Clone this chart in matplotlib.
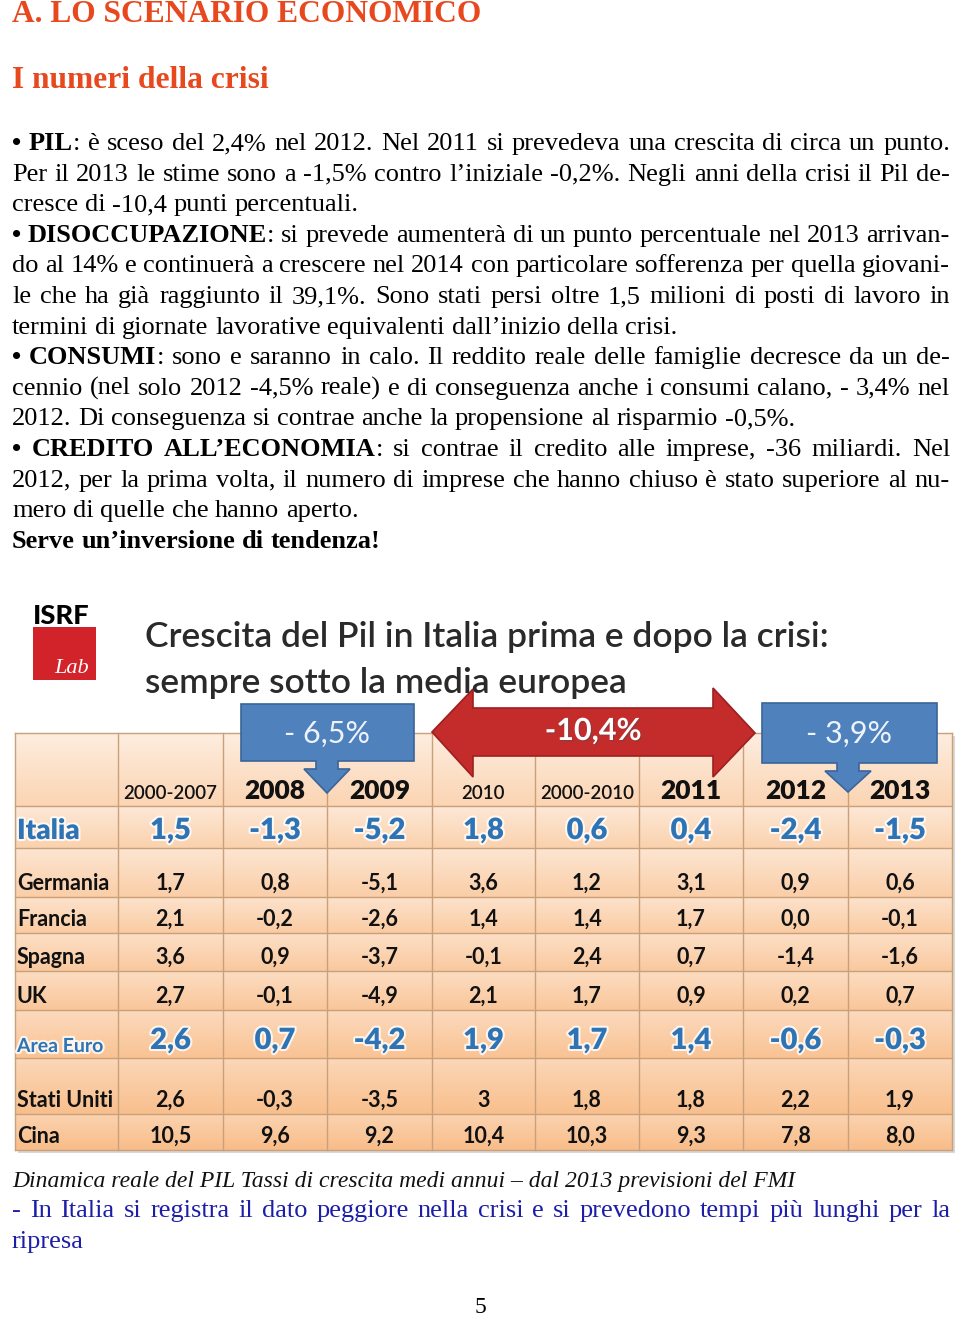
import numpy as np
import matplotlib
matplotlib.use('Agg')
import matplotlib.pyplot as plt
from matplotlib.patches import Polygon, Rectangle
import matplotlib.patheffects as pe

# ---- table data (GDP growth, %)
years = ['2000-2007', '2008', '2009', '2010', '2000-2010', '2011', '2012', '2013']
big_year = [False, True, True, False, False, True, True, True]
countries = ['Italia', 'Germania', 'Francia', 'Spagna', 'UK', 'Area Euro', 'Stati Uniti', 'Cina']
italia = [1.5, -1.3, -5.2, 1.8, 0.6, 0.4, -2.4, -1.5]
germania = [1.7, 0.8, -5.1, 3.6, 1.2, 3.1, 0.9, 0.6]
francia = [2.1, -0.2, -2.6, 1.4, 1.4, 1.7, 0.0, -0.1]
spagna = [3.6, 0.9, -3.7, -0.1, 2.4, 0.7, -1.4, -1.6]
uk = [2.7, -0.1, -4.9, 2.1, 1.7, 0.9, 0.2, 0.7]
area_euro = [2.6, 0.7, -4.2, 1.9, 1.7, 1.4, -0.6, -0.3]
stati_uniti = [2.6, -0.3, -3.5, 3, 1.8, 1.8, 2.2, 1.9]
cina = [10.5, 9.6, 9.2, 10.4, 10.3, 9.3, 7.8, 8.0]
highlight = ['Italia', 'Area Euro']
drops = ['- 6,5%', '-10,4%', '- 3,9%']

# ---- page text
heading = 'A. LO SCENARIO ECONOMICO'
subheading = 'I numeri della crisi'
paragraphs = [
    ['**•** **PIL**: è sceso del 2,4% nel 2012. Nel 2011 si prevedeva una crescita di circa un punto.',
     'Per il 2013 le stime sono a -1,5% contro l’iniziale -0,2%. Negli anni della crisi il Pil de-',
     'cresce di -10,4 punti percentuali.'],
    ['**•** **DISOCCUPAZIONE**: si prevede aumenterà di un punto percentuale nel 2013 arrivan-',
     'do al 14% e continuerà a crescere nel 2014 con particolare sofferenza per quella giovani-',
     'le che ha già raggiunto il 39,1%. Sono stati persi oltre 1,5 milioni di posti di lavoro in',
     'termini di giornate lavorative equivalenti dall’inizio della crisi.'],
    ['**•** **CONSUMI**: sono e saranno in calo. Il reddito reale delle famiglie decresce da un de-',
     'cennio (nel solo 2012 -4,5% reale) e di conseguenza anche i consumi calano, - 3,4% nel',
     '2012. Di conseguenza si contrae anche la propensione al risparmio -0,5%.'],
    ['**•** **CREDITO** **ALL’ECONOMIA**: si contrae il credito alle imprese, -36 miliardi. Nel',
     '2012, per la prima volta, il numero di imprese che hanno chiuso è stato superiore al nu-',
     'mero di quelle che hanno aperto.'],
    ['**Serve** **un’inversione** **di** **tendenza!**'],
]
caption = 'Dinamica reale del PIL Tassi di crescita medi annui – dal 2013 previsioni del FMI'
note = ['- In Italia si registra il dato peggiore nella crisi e si prevedono tempi più lunghi per la',
        'ripresa']
chart_title = ['Crescita del Pil in Italia prima e dopo la crisi:', 'sempre sotto la media europea']

SERIF = 'Liberation Serif'
SANS = 'Lato'
RED = '#e8481e'
NAVY = '#1d1ea8'
TBLUE = '#2e74b5'


def fmt(v):
    if isinstance(v, int):
        return str(v)
    return ('%.1f' % v).replace('.', ',')


def parse(line):
    """split a line with **bold** marks into words made of (text, bold) pieces"""
    words = [[]]
    for i, part in enumerate(line.split('**')):
        for j, chunk in enumerate(part.split(' ')):
            if j > 0:
                words.append([])
            if chunk:
                words[-1].append((chunk, i % 2 == 1))
    return [w for w in words if w]


def width_of(t, rend):
    return t.get_window_extent(rend).width


def fit_text(ax, rend, x, y, s, width, **kw):
    t = ax.text(x, y, s, **kw)
    t.set_fontsize(t.get_fontsize() * width / width_of(t, rend))
    return t


def justify(ax, rend, y, line, size, width, x0=12, last=False, **kw):
    words = parse(line)
    objs = [[ax.text(0, y, s, fontsize=size, va='baseline',
                     fontweight='bold' if b else 'normal', **kw) for s, b in w]
            for w in words]
    probe = ax.text(0, 0, 'a a', fontsize=size, **kw)
    probe2 = ax.text(0, 0, 'aa', fontsize=size, **kw)
    space = width_of(probe, rend) - width_of(probe2, rend)
    probe.remove()
    probe2.remove()
    total = sum(width_of(t, rend) for w in objs for t in w)
    need = total + (len(objs) - 1) * space * 0.55
    if not last and need > width:
        f = width / need
        for w in objs:
            for t in w:
                t.set_fontsize(size * f)
        space *= f
        total = sum(width_of(t, rend) for w in objs for t in w)
    if last or len(objs) == 1:
        gap = space
    else:
        gap = (width - total) / (len(objs) - 1)
    x = x0
    for w in objs:
        for t in w:
            t.set_x(x)
            x += width_of(t, rend)
        x += gap


fig = plt.figure(figsize=(9.6, 13.18), dpi=100)
ax = fig.add_axes([0, 0, 1, 1])
rend = fig.canvas.get_renderer()

# ---- headings and body text
fit_text(ax, rend, 12, 22, heading, 471, fontsize=22, family=SERIF,
         fontweight='bold', color=RED, va='baseline')
fit_text(ax, rend, 12, 88, subheading, 257, fontsize=22, family=SERIF,
         fontweight='bold', color=RED, va='baseline')

line_y = 150
for para in paragraphs:
    for k, line in enumerate(para):
        justify(ax, rend, line_y, line, 19, 938, last=(k == len(para) - 1),
                family=SERIF, color='black')
        line_y += 30.6

# ---- table geometry
col_edges = [15, 118, 223, 327, 432, 535, 639, 743, 848, 952]
row_edges = [733, 806, 848, 897, 933, 971, 1010, 1058, 1114, 1150]
values = [italia, germania, francia, spagna, uk, area_euro, stati_uniti, cina]

# background gradient, each row darker at bottom, overall darker toward bottom
light = np.array([254, 242, 232]) / 255.0
dark = np.array([248, 184, 128]) / 255.0
ys = np.arange(row_edges[0], row_edges[-1])
img = np.zeros((len(ys), 2, 3))
for i, y in enumerate(ys):
    r = np.searchsorted(row_edges, y, side='right') - 1
    r = min(r, len(row_edges) - 2)
    loc = (y - row_edges[r]) / (row_edges[r + 1] - row_edges[r])
    glob = (y - row_edges[0]) / (row_edges[-1] - row_edges[0])
    m = np.clip(0.08 + 0.5 * glob + 0.35 * loc, 0, 1)
    img[i, :, :] = light * (1 - m) + dark * m
ax.add_patch(Rectangle((col_edges[0] + 3, row_edges[0] + 3),
                       col_edges[-1] - col_edges[0], row_edges[-1] - row_edges[0],
                       facecolor='#d8d8d8', edgecolor='none', zorder=0.5))
ax.imshow(img, extent=(col_edges[0], col_edges[-1], row_edges[-1], row_edges[0]),
          aspect='auto', interpolation='bilinear', zorder=1)
for x in col_edges:
    ax.plot([x, x], [row_edges[0], row_edges[-1]], color='#c9a07a', lw=1, zorder=2)
for y in row_edges:
    ax.plot([col_edges[0], col_edges[-1]], [y, y], color='#c9a07a', lw=1, zorder=2)

centers = [(col_edges[i] + col_edges[i + 1]) / 2 for i in range(len(col_edges) - 1)]

# header row
for j, yr in enumerate(years):
    ax.text(centers[j + 1], row_edges[1] - 7, yr, family=SANS, va='baseline', ha='center',
            fontsize=19 if big_year[j] else 13.5,
            fontweight='heavy' if big_year[j] else 'semibold', color='#111111', zorder=5)

glow = [pe.withStroke(linewidth=3, foreground='white', alpha=0.8)]
for i, name in enumerate(countries):
    base = row_edges[i + 2] - 7
    if name in highlight:
        base = row_edges[i + 2] - 9
        lab_size = 20 if name == 'Italia' else 14
        lab_y = base if name == 'Italia' else base + 3
        ax.text(17, lab_y, name, family=SANS, fontsize=lab_size,
                fontweight='heavy' if name == 'Italia' else 'bold',
                color=TBLUE, va='baseline', zorder=5, path_effects=glow)
        for j, v in enumerate(values[i]):
            ax.text(centers[j + 1], base, fmt(v), family=SANS, fontsize=21,
                    fontweight='heavy', color=TBLUE, va='baseline', ha='center',
                    zorder=5, path_effects=glow)
    else:
        ax.text(17, base, name, family=SANS, fontsize=15.5, fontweight='bold',
                color='#111111', va='baseline', zorder=5)
        for j, v in enumerate(values[i]):
            ax.text(centers[j + 1], base, fmt(v), family=SANS, fontsize=15.5,
                    fontweight='bold', color='#111111', va='baseline', ha='center', zorder=5)


# ---- callout arrows
def blue_callout(x0, x1, y0, y1, tip_x, tip_y, label):
    sh, hw = 11, 23
    pts = [(x0, y0), (x1, y0), (x1, y1), (tip_x + sh, y1), (tip_x + sh, y1 + 8),
           (tip_x + hw, y1 + 8), (tip_x, tip_y), (tip_x - hw, y1 + 8),
           (tip_x - sh, y1 + 8), (tip_x - sh, y1), (x0, y1)]
    ax.add_patch(Polygon(pts, closed=True, facecolor='#4f81bd', edgecolor='#3a659a',
                         lw=1.2, zorder=3))
    ax.text((x0 + x1) / 2, (y0 + y1) / 2 + 1, label, family=SANS, fontsize=22,
            color='#eef3fb', ha='center', va='center', zorder=4)


blue_callout(241, 414, 704, 761, col_edges[3], 793, drops[0])
blue_callout(762, 937, 703, 763, col_edges[8], 792, drops[2])

red_pts = [(432, 732), (473, 689), (473, 708), (713, 708), (713, 688), (755, 733),
           (713, 777), (713, 756), (473, 756), (473, 777)]
ax.add_patch(Polygon(red_pts, closed=True, facecolor='#c42b2b', edgecolor='#9e1f1f',
                     lw=1.2, zorder=3))
ax.text(593, 731, drops[1], family=SANS, fontsize=22, fontweight='bold', color='white',
        ha='center', va='center', zorder=4,
        path_effects=[pe.withSimplePatchShadow(offset=(1, -1), alpha=0.4)])

# ---- chart title and logo
fit_text(ax, rend, 145, 647, chart_title[0], 683, fontsize=22, family=SANS,
         fontweight='semibold', color='#2a2a2a', va='baseline')
fit_text(ax, rend, 145, 693, chart_title[1], 481, fontsize=22, family=SANS,
         fontweight='semibold', color='#2a2a2a', va='baseline')
fit_text(ax, rend, 33, 624, 'ISRF', 57, fontsize=13, family=SANS, fontweight='black',
         color='black', va='baseline')
ax.add_patch(Rectangle((33, 627), 63, 53, facecolor='#d3232a', edgecolor='none', zorder=2))
ax.text(72, 673, 'Lab', family=SERIF, style='italic', fontsize=16, color='white',
        ha='center', va='baseline', zorder=3)

# ---- caption and note
ax.text(12, 1187, caption, family=SERIF, style='italic', fontsize=17, color='#111111',
        va='baseline')
justify(ax, rend, 1217, note[0], 19, 938, family=SERIF, color=NAVY)
justify(ax, rend, 1248, note[1], 19, 938, last=True, family=SERIF, color=NAVY)
ax.text(480, 1313, '5', family=SERIF, fontsize=17, ha='center', va='baseline')

ax.set_xlim(0, 960)
ax.set_ylim(1318, 0)
ax.axis('off')
fig.savefig('out.png', dpi=100)
